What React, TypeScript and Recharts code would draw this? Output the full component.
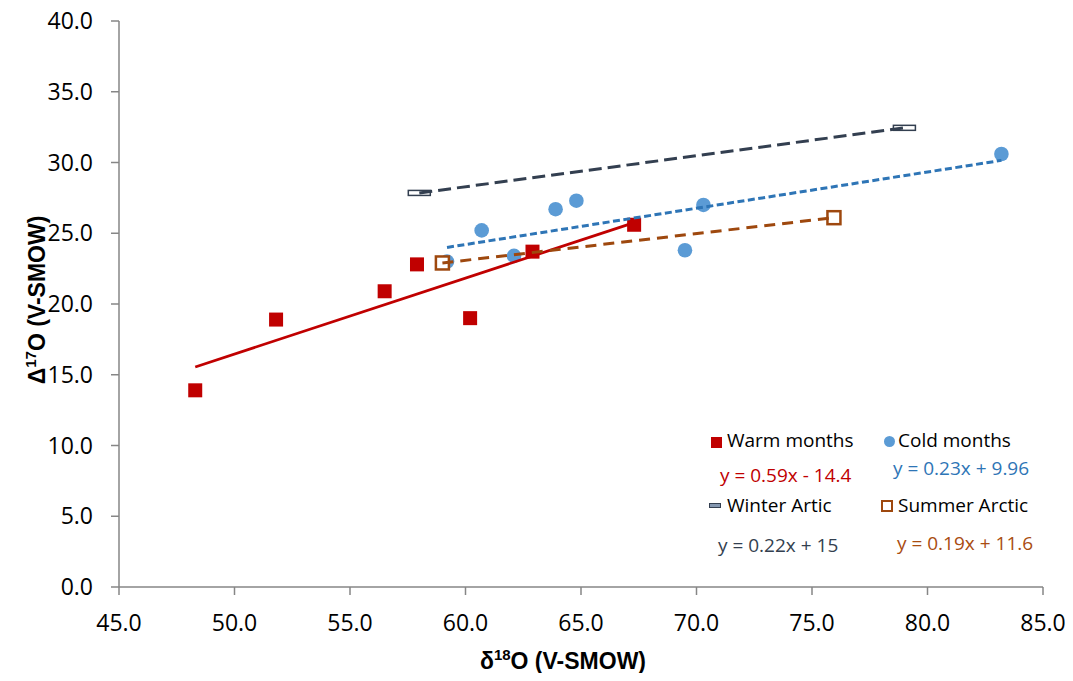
import React from "react";
import { ScatterChart, Scatter, XAxis, YAxis, Label } from "recharts";

// ---- data ----
const xTicks = [45, 50, 55, 60, 65, 70, 75, 80, 85];
const yTicks = [0, 5, 10, 15, 20, 25, 30, 35, 40];

const warmX = [48.3, 51.8, 56.5, 57.9, 60.2, 62.9, 67.3];
const warmY = [13.9, 18.9, 20.9, 22.8, 19.0, 23.7, 25.6];

const coldX = [59.2, 60.7, 62.1, 63.9, 64.8, 69.5, 70.3, 83.2];
const coldY = [23.0, 25.2, 23.4, 26.7, 27.3, 23.8, 27.0, 30.6];

const winterX = [58.0, 79.0];
const winterY = [27.85, 32.45];

const summerX = [59.0, 75.95];
const summerY = [22.9, 26.1];

// trend line end points (as drawn in the reference)
const warmTrendX = [48.3, 67.3];
const warmTrendY = [15.55, 25.75];
const coldTrendX = [59.2, 83.2];
const coldTrendY = [24.0, 30.15];
const winterTrendX = [58.0, 79.0];
const winterTrendY = [27.85, 32.45];
const summerTrendX = [59.0, 75.95];
const summerTrendY = [22.9, 26.1];

const legendNames = ["Warm months", "Cold months", "Winter Artic", "Summer Arctic"];
const equations = ["y = 0.59x - 14.4", "y = 0.23x + 9.96", "y = 0.22x + 15", "y = 0.19x + 11.6"];

const zip = (xs: number[], ys: number[]) => xs.map((x, i) => ({ x, y: ys[i] }));

const RED = "#C00000";
const BLUE = "#5B9BD5";
const BLUE_LINE = "#2E75B6";
const DARK = "#333F50";
const BROWN = "#9E480E";
const BROWN_TEXT = "#A94C10";

const W = 1057;
const H = 673;

const SquareShape = (p: any) => (
  <rect x={p.cx - 7} y={p.cy - 7} width={14} height={14} fill={RED} />
);
const CircleShape = (p: any) => <circle cx={p.cx} cy={p.cy} r={7.3} fill={BLUE} />;
const DashShape = (p: any) => (
  <rect x={p.cx - 11} y={p.cy - 2.5} width={22} height={5} fill="#ffffff" stroke={DARK} strokeWidth={1.5} />
);
const HollowSquare = (p: any) => (
  <rect x={p.cx - 6.5} y={p.cy - 6.5} width={13} height={13} fill="#ffffff" stroke={BROWN} strokeWidth={2.5} />
);
const NoShape = () => <g />;

const titleFont = '"Liberation Sans", Arial, sans-serif';

const XTitle = () => (
  <text x={555} y={669} textAnchor="middle" fontFamily={titleFont} fontWeight="bold" fontSize={23} fill="#000">
    <tspan>δ</tspan>
    <tspan fontSize={15} dy={-9}>18</tspan>
    <tspan dy={9}>O (V-SMOW)</tspan>
  </text>
);

const YTitle = () => (
  <text
    x={37}
    y={300}
    transform="rotate(-90, 37, 300)"
    textAnchor="middle"
    fontFamily={titleFont}
    fontWeight="bold"
    fontSize={23}
    fill="#000"
  >
    <tspan>Δ</tspan>
    <tspan fontSize={15} dy={-9}>17</tspan>
    <tspan dy={9}>O (V-SMOW)</tspan>
  </text>
);

const LegendText = ({ left, cy, color, children }: any) => (
  <div
    style={{
      position: "absolute",
      left: left - 8,
      top: cy - 12.6,
      lineHeight: "24px",
      fontSize: 19,
      color,
      whiteSpace: "nowrap",
      fontFamily: '"Open Sans", sans-serif',
    }}
  >
    {children}
  </div>
);

const tickStyle = { fill: "#000", fontSize: 23, fontFamily: '"Open Sans", sans-serif' };

export default function App() {
  return (
    <div style={{ position: "relative", width: W, height: H, marginTop: -8 }}>
      <ScatterChart width={W} height={H} margin={{ top: 21, right: 22, bottom: 0, left: 0 }}>
        <XAxis
          type="number"
          dataKey="x"
          domain={[45, 85]}
          ticks={xTicks}
          interval={0}
          tickFormatter={(v: number) => v.toFixed(1)}
          axisLine={{ stroke: "#868686", strokeWidth: 1.5 }}
          tickLine={{ stroke: "#868686", strokeWidth: 1.5 }}
          tickSize={8}
          tickMargin={20}
          height={86}
          tick={tickStyle}
        >
          <Label content={XTitle} />
        </XAxis>
        <YAxis
          type="number"
          dataKey="y"
          domain={[0, 40]}
          ticks={yTicks}
          interval={0}
          tickFormatter={(v: number) => v.toFixed(1)}
          axisLine={{ stroke: "#868686", strokeWidth: 1.5 }}
          tickLine={{ stroke: "#868686", strokeWidth: 1.5 }}
          tickSize={8}
          tickMargin={18}
          width={111}
          tick={tickStyle}
        >
          <Label content={YTitle} />
        </YAxis>

        <Scatter name="Cold months" data={zip(coldX, coldY)} shape={CircleShape} isAnimationActive={false} />
        <Scatter name="Warm months" data={zip(warmX, warmY)} shape={SquareShape} isAnimationActive={false} />
        <Scatter name="Winter Artic" data={zip(winterX, winterY)} shape={DashShape} isAnimationActive={false} />
        <Scatter name="Summer Arctic" data={zip(summerX, summerY)} shape={HollowSquare} isAnimationActive={false} />

        <Scatter
          data={zip(warmTrendX, warmTrendY)}
          shape={NoShape}
          line={{ stroke: RED, strokeWidth: 2.8 }}
          isAnimationActive={false}
        />
        <Scatter
          data={zip(coldTrendX, coldTrendY)}
          shape={NoShape}
          line={{ stroke: BLUE_LINE, strokeWidth: 3, strokeDasharray: "7 3.5" }}
          isAnimationActive={false}
        />
        <Scatter
          data={zip(winterTrendX, winterTrendY)}
          shape={NoShape}
          line={{ stroke: DARK, strokeWidth: 3, strokeDasharray: "13 6" }}
          isAnimationActive={false}
        />
        <Scatter
          data={zip(summerTrendX, summerTrendY)}
          shape={NoShape}
          line={{ stroke: BROWN, strokeWidth: 3, strokeDasharray: "11 7" }}
          isAnimationActive={false}
        />
      </ScatterChart>

      {/* legend markers */}
      <div style={{ position: "absolute", left: 703, top: 437, width: 11, height: 11, background: RED }} />
      <div
        style={{ position: "absolute", left: 876, top: 436, width: 11, height: 11, borderRadius: "50%", background: BLUE }}
      />
      <div
        style={{
          position: "absolute",
          left: 701,
          top: 503,
          width: 10,
          height: 3,
          background: "#8497B0",
          border: `1px solid ${DARK}`,
        }}
      />
      <div
        style={{
          position: "absolute",
          left: 873,
          top: 500,
          width: 8,
          height: 8,
          background: "#fff",
          border: `2.5px solid ${BROWN}`,
        }}
      />

      <LegendText left={727} cy={441} color="#000">{legendNames[0]}</LegendText>
      <LegendText left={898} cy={441} color="#000">{legendNames[1]}</LegendText>
      <LegendText left={727} cy={506} color="#000">{legendNames[2]}</LegendText>
      <LegendText left={898} cy={506} color="#000">{legendNames[3]}</LegendText>

      <LegendText left={720} cy={476} color={RED}>{equations[0]}</LegendText>
      <LegendText left={893} cy={469} color={BLUE_LINE}>{equations[1]}</LegendText>
      <LegendText left={718} cy={546} color={DARK}>{equations[2]}</LegendText>
      <LegendText left={897} cy={544} color={BROWN_TEXT}>{equations[3]}</LegendText>
    </div>
  );
}
